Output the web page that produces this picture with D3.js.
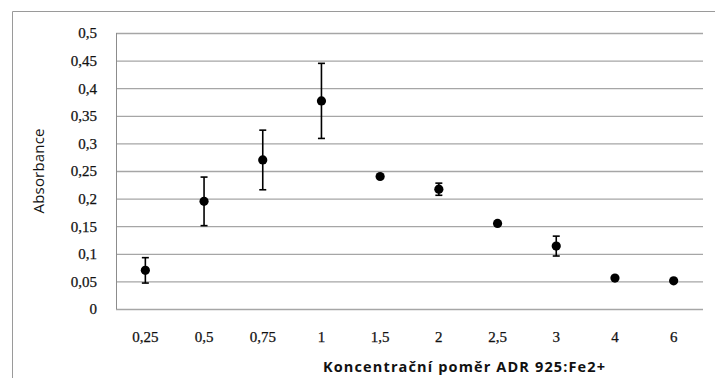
<!DOCTYPE html>
<html>
<head>
<meta charset="utf-8">
<script src="https://cdn.jsdelivr.net/npm/d3@7"></script>
<style>
  html, body { margin: 0; padding: 0; background: #ffffff; }
  svg { display: block; }
</style>
</head>
<body>
<svg id="chart" width="715" height="378"></svg>
<script>
// Absorbance vs. concentration ratio ADR 925 : Fe2+
const categories = ["0,25", "0,5", "0,75", "1", "1,5", "2", "2,5", "3", "4", "6"];
const absorbance = [0.070, 0.195, 0.270, 0.377, 0.240, 0.217, 0.155, 0.114, 0.056, 0.051];
const errors     = [0.023, 0.044, 0.054, 0.068, 0.000, 0.011, 0.000, 0.018, 0.000, 0.000];
const yTicks     = [0, 0.05, 0.1, 0.15, 0.2, 0.25, 0.3, 0.35, 0.4, 0.45, 0.5];

const svg = d3.select("#chart");
const W = 715, H = 378;
const plot = { left: 116, right: 703, top: 33, bottom: 309 };

// outer chart frame
svg.append("path")
  .attr("d", `M12.5,${H} V11.5 H${W}`)
  .attr("fill", "none")
  .attr("stroke", "#9a9a9a")
  .attr("stroke-width", 1);

const x = d3.scaleBand()
  .domain(categories)
  .range([plot.left, plot.right])
  .paddingInner(0).paddingOuter(0);

const y = d3.scaleLinear()
  .domain([0, 0.5])
  .range([plot.bottom, plot.top]);

const fmt = v => d3.format(".2~f")(v).replace(".", ",");

const tickFont = sel => sel
  .attr("font-family", "'Liberation Serif', 'DejaVu Serif', serif")
  .attr("font-size", 15)
  .attr("fill", "#111")
  .attr("stroke", "#111")
  .attr("stroke-width", 0.25);

// horizontal gridlines and y labels
const yAxis = d3.axisLeft(y)
  .tickValues(yTicks)
  .tickSize(-(plot.right - plot.left))
  .tickPadding(19)
  .tickFormat(fmt);

const gy = svg.append("g")
  .attr("transform", `translate(${plot.left},0)`)
  .call(yAxis);
gy.select(".domain").remove();
gy.selectAll(".tick line")
  .attr("stroke", "#a6a6a6")
  .attr("stroke-width", 1.3);
gy.selectAll(".tick text").call(tickFont);

// vertical axis line
svg.append("line")
  .attr("x1", plot.left + 0.5).attr("x2", plot.left + 0.5)
  .attr("y1", plot.top).attr("y2", plot.bottom)
  .attr("stroke", "#8c8c8c")
  .attr("stroke-width", 1);

// x labels
const xAxis = d3.axisBottom(x).tickSize(0).tickPadding(22);
const gx = svg.append("g")
  .attr("transform", `translate(0,${plot.bottom})`)
  .call(xAxis);
gx.select(".domain").remove();
gx.selectAll(".tick text").call(tickFont);

// axis titles
svg.append("text")
  .attr("transform", `translate(44,${(plot.top + plot.bottom) / 2}) rotate(-90)`)
  .attr("text-anchor", "middle")
  .attr("font-family", "'Open Sans', 'Liberation Sans', sans-serif")
  .attr("font-size", 15)
  .attr("textLength", 85)
  .attr("fill", "#111")
  .text("Absorbance");

svg.append("text")
  .attr("x", 464)
  .attr("y", 372)
  .attr("text-anchor", "middle")
  .attr("font-family", "'Open Sans', 'Liberation Sans', sans-serif")
  .attr("font-weight", "bold")
  .attr("font-size", 14.5)
  .attr("textLength", 282)
  .attr("fill", "#111")
  .text("Koncentrační poměr ADR 925:Fe2+");

const data = categories.map((c, i) => ({ c, v: absorbance[i], e: errors[i] }));
const cx = d => x(d.c) + x.bandwidth() / 2;

// error bars
const eb = svg.append("g").selectAll("g")
  .data(data.filter(d => d.e > 0))
  .join("g")
  .attr("stroke", "#000")
  .attr("stroke-width", 1.6);
eb.append("line")
  .attr("x1", cx).attr("x2", cx)
  .attr("y1", d => y(d.v + d.e)).attr("y2", d => y(d.v - d.e));
eb.append("line")
  .attr("x1", d => cx(d) - 3.5).attr("x2", d => cx(d) + 3.5)
  .attr("y1", d => y(d.v + d.e)).attr("y2", d => y(d.v + d.e));
eb.append("line")
  .attr("x1", d => cx(d) - 3.5).attr("x2", d => cx(d) + 3.5)
  .attr("y1", d => y(d.v - d.e)).attr("y2", d => y(d.v - d.e));

// markers
svg.append("g").selectAll("circle")
  .data(data)
  .join("circle")
  .attr("cx", cx)
  .attr("cy", d => y(d.v))
  .attr("r", 4.6)
  .attr("fill", "#000");
</script>
</body>
</html>
